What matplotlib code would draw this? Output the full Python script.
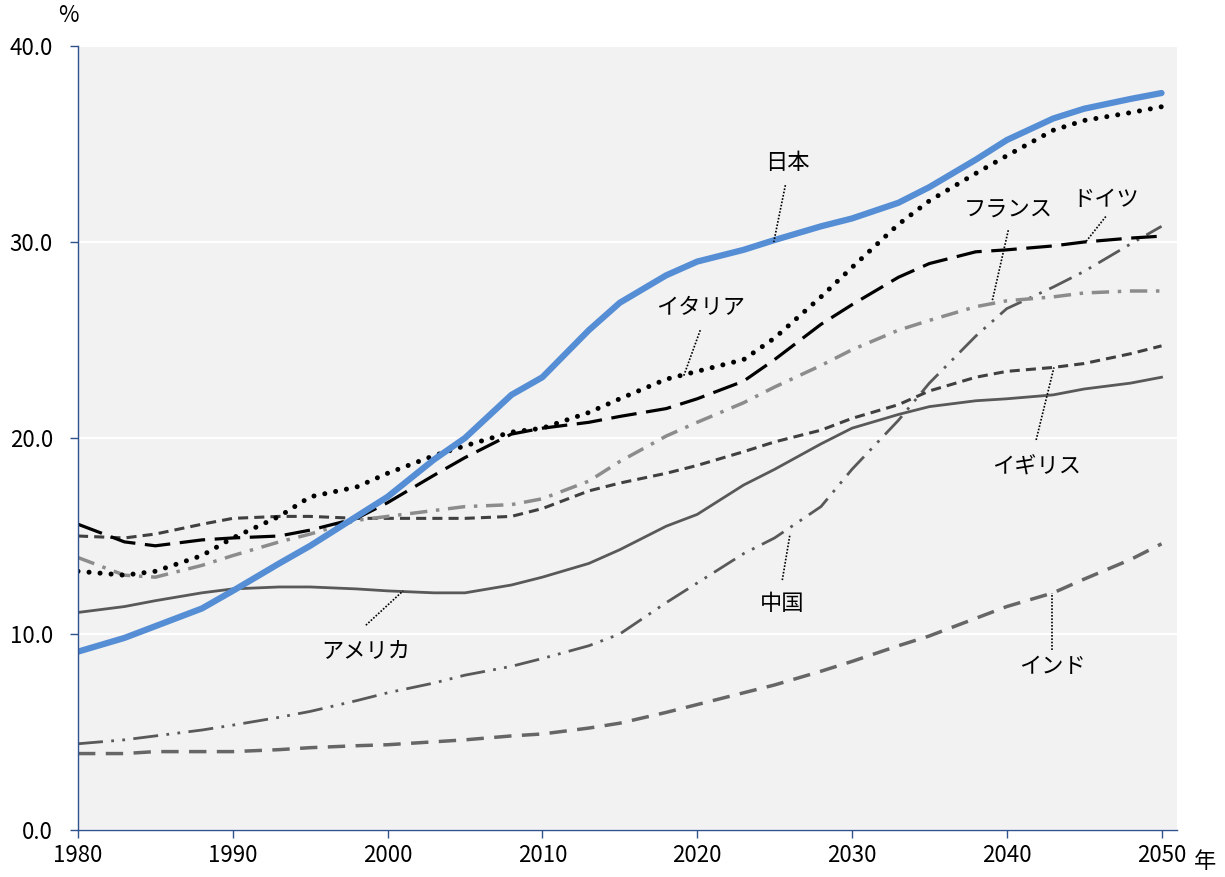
import numpy as np
import matplotlib.pyplot as plt

plt.rcParams['font.family'] = ['Noto Sans CJK JP', 'DejaVu Sans']
plt.rcParams['font.size'] = 16

# 高齢化率 (65歳以上人口の割合, %)
years = [1980, 1983, 1985, 1988, 1990, 1993, 1995, 1998, 2000, 2003, 2005, 2008, 2010,
         2013, 2015, 2018, 2020, 2023, 2025, 2028, 2030, 2033, 2035, 2038, 2040, 2043,
         2045, 2048, 2050]

japan = [9.1, 9.8, 10.4, 11.3, 12.2, 13.6, 14.5, 16.0, 17.0, 18.9, 20.0, 22.2, 23.1,
         25.5, 26.9, 28.3, 29.0, 29.6, 30.1, 30.8, 31.2, 32.0, 32.8, 34.2, 35.2, 36.3,
         36.8, 37.3, 37.6]
italy = [13.2, 13.0, 13.2, 14.0, 14.9, 16.0, 17.0, 17.5, 18.2, 19.1, 19.6, 20.3, 20.5,
         21.3, 22.0, 23.0, 23.4, 24.0, 25.1, 27.2, 28.7, 30.9, 32.1, 33.5, 34.4, 35.7,
         36.2, 36.6, 36.9]
germany = [15.6, 14.7, 14.5, 14.8, 14.9, 15.0, 15.3, 15.9, 16.7, 18.1, 19.0, 20.2, 20.5,
           20.8, 21.1, 21.5, 22.0, 22.9, 24.0, 25.8, 26.8, 28.2, 28.9, 29.5, 29.6, 29.8,
           30.0, 30.2, 30.3]
france = [13.9, 13.0, 12.9, 13.5, 14.0, 14.7, 15.1, 15.8, 16.0, 16.3, 16.5, 16.6, 16.9,
          17.8, 18.8, 20.1, 20.8, 21.8, 22.6, 23.7, 24.5, 25.5, 26.0, 26.7, 27.0, 27.2,
          27.4, 27.5, 27.5]
uk = [15.0, 14.9, 15.1, 15.6, 15.9, 16.0, 16.0, 15.9, 15.9, 15.9, 15.9, 16.0, 16.4,
      17.3, 17.7, 18.2, 18.6, 19.3, 19.8, 20.4, 21.0, 21.7, 22.4, 23.1, 23.4, 23.6,
      23.8, 24.3, 24.7]
usa = [11.1, 11.4, 11.7, 12.1, 12.3, 12.4, 12.4, 12.3, 12.2, 12.1, 12.1, 12.5, 12.9,
       13.6, 14.3, 15.5, 16.1, 17.6, 18.4, 19.7, 20.5, 21.2, 21.6, 21.9, 22.0, 22.2,
       22.5, 22.8, 23.1]
china = [4.4, 4.6, 4.8, 5.1, 5.35, 5.75, 6.05, 6.6, 7.0, 7.5, 7.9, 8.35, 8.75,
         9.4, 10.0, 11.6, 12.6, 14.1, 14.9, 16.5, 18.4, 20.9, 22.8, 25.2, 26.6, 27.7,
         28.5, 29.9, 30.8]
india = [3.9, 3.9, 4.0, 4.0, 4.0, 4.1, 4.2, 4.3, 4.35, 4.5, 4.6, 4.8, 4.9,
         5.2, 5.45, 6.0, 6.4, 7.0, 7.4, 8.1, 8.6, 9.4, 9.9, 10.8, 11.4, 12.1,
         12.8, 13.8, 14.6]

# ラベル: (テキスト, 文字位置, 引出線の始点, 引出線の終点)
labels = [
    ('日本', (2025.8, 34.05), (2025.7, 32.9), (2024.95, 30.0)),
    ('イタリア', (2020.2, 26.65), (2020.2, 25.5), (2019.1, 23.1)),
    ('フランス', (2040.1, 31.65), (2040.1, 30.6), (2039.05, 26.95)),
    ('ドイツ', (2046.4, 32.15), (2046.4, 31.3), (2045.1, 30.0)),
    ('イギリス', (2041.9, 18.5), (2041.9, 19.9), (2043.05, 23.6)),
    ('中国', (2025.5, 11.55), (2025.5, 12.75), (2026.0, 15.1)),
    ('アメリカ', (1998.6, 9.1), (1998.6, 10.45), (2001.0, 12.2)),
    ('インド', (2042.95, 8.35), (2042.95, 9.2), (2042.95, 12.1)),
]

axis_col = '#2F528F'

fig = plt.figure(figsize=(12.25, 8.77), dpi=100)
ax = fig.add_axes([78 / 1225, 1 - 830 / 877, (1177 - 78) / 1225, (830 - 46) / 877])
ax.set_facecolor('#F2F2F2')

ax.plot(years, india, color='#666666', lw=2.5, linestyle=(0, (5, 3)))
ax.plot(years, china, color='#595959', lw=2.0, linestyle=(0, (9, 3, 1, 3, 1, 3)))
ax.plot(years, usa, color='#595959', lw=2.0)
ax.plot(years, uk, color='#404040', lw=2.2, linestyle=(0, (3.3, 2)))
ax.plot(years, france, color='#8C8C8C', lw=2.5, linestyle=(0, (5, 2.5, 1, 2.5)))
ax.plot(years, germany, color='black', lw=2.3, linestyle=(0, (8, 3)))
ax.plot(years, italy, color='black', lw=3.6, linestyle=(0, (0.01, 2.2)),
        dash_capstyle='round')
ax.plot(years, japan, color='#558ED5', lw=4.5, solid_capstyle='round')

for text, tpos, p0, p1 in labels:
    ax.plot([p0[0], p1[0]], [p0[1], p1[1]], color='black', lw=1.2,
            linestyle=(0, (1, 1)))
    ax.text(tpos[0], tpos[1], text, ha='center', va='center', fontsize=16)

ax.set_xlim(1980, 2051)
ax.set_ylim(0, 40)
ax.set_xticks(np.arange(1980, 2051, 10))
ax.set_yticks(np.arange(0, 41, 10))
ax.set_yticklabels([f'{v:.1f}' for v in np.arange(0, 41, 10)])
ax.grid(axis='y', color='white', lw=1.6)
ax.set_axisbelow(True)

for s in ['top', 'right']:
    ax.spines[s].set_visible(False)
for s in ['left', 'bottom']:
    ax.spines[s].set_color(axis_col)
    ax.spines[s].set_linewidth(1.0)
ax.tick_params(axis='both', direction='out', length=6, color=axis_col, width=1.0)
ax.tick_params(axis='y', pad=12)
ax.tick_params(axis='x', pad=4)

fig.text(68 / 1225, 1 - 16 / 877, '%', ha='center', va='center', fontsize=16)
fig.text(1205 / 1225, 1 - 862 / 877, '年', ha='center', va='center', fontsize=16)

fig.savefig('out.png', dpi=100)
